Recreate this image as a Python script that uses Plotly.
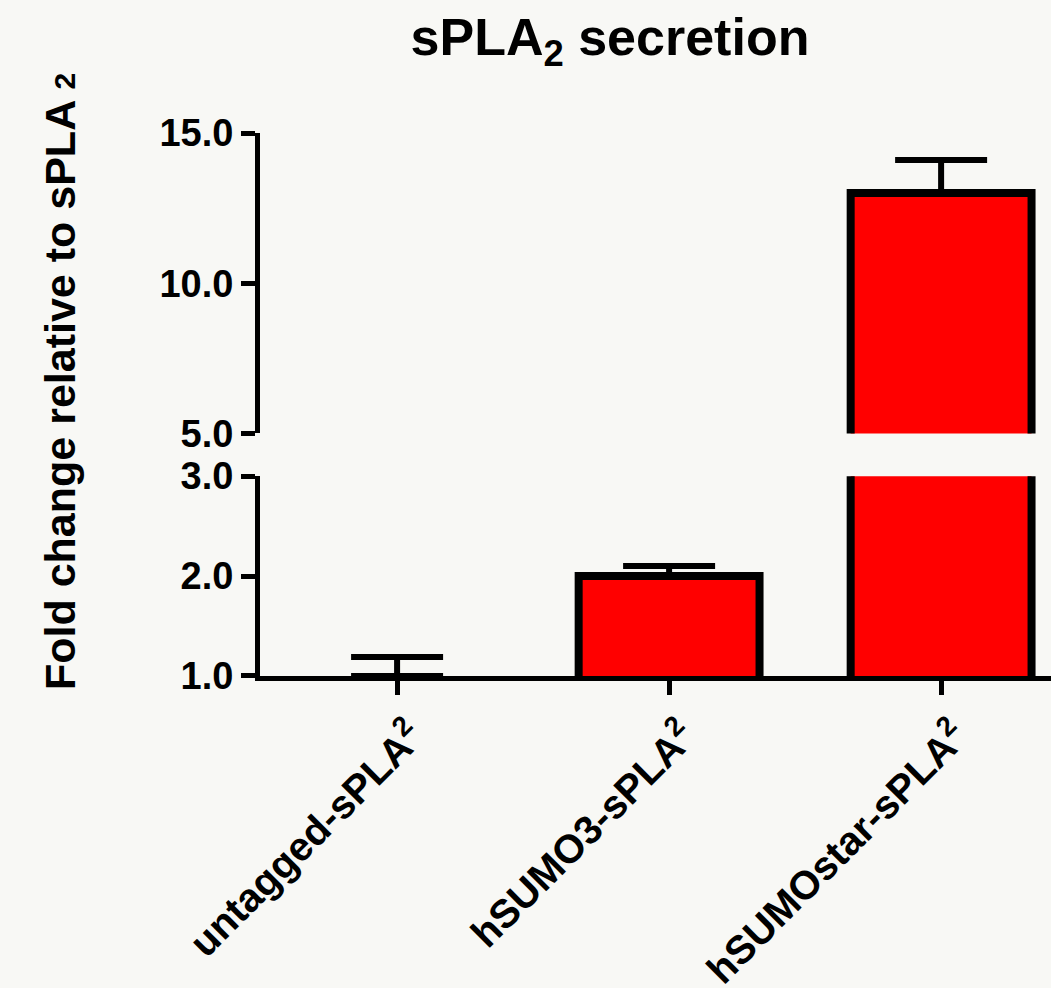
import plotly.graph_objects as go

# ---- data ----
categories = ["untagged-sPLA2", "hSUMO3-sPLA2", "hSUMOstar-sPLA2"]
tick_labels = ["untagged-sPLA<sup>2</sup>", "hSUMO3-sPLA<sup>2</sup>", "hSUMOstar-sPLA<sup>2</sup>"]
mean_fold = [1.0, 2.0, 13.0]
sem_fold = [0.19, 0.10, 1.10]
lower_ticks = [1.0, 2.0, 3.0]
upper_ticks = [5.0, 10.0, 15.0]
lower_range = [1.0, 3.0]
upper_range = [5.0, 15.0]

FONT = "Liberation Sans, Arial, Helvetica, sans-serif"
BG = "#f8f8f5"
RED = "#ff0000"

lower_err = [e if m < lower_range[1] else 0 for m, e in zip(mean_fold, sem_fold)]
upper_err = [e if m >= upper_range[0] else 0 for m, e in zip(mean_fold, sem_fold)]
lower_lw = [0 if m <= lower_range[0] else 8 for m in mean_fold]
upper_lw = [8 if m >= upper_range[0] else 0 for m in mean_fold]

fig = go.Figure()
fig.add_trace(go.Bar(
    x=categories, y=mean_fold, width=0.665, xaxis="x", yaxis="y",
    marker=dict(color=RED, line=dict(color="black", width=lower_lw)),
    error_y=dict(type="data", array=lower_err, arrayminus=[0] * 3, symmetric=False,
                 color="black", thickness=6, width=46),
    hoverinfo="skip",
))
fig.add_trace(go.Bar(
    x=categories, y=mean_fold, width=0.665, xaxis="x", yaxis="y2",
    marker=dict(color=RED, line=dict(color="black", width=upper_lw)),
    error_y=dict(type="data", array=upper_err, arrayminus=[0] * 3, symmetric=False,
                 color="black", thickness=6, width=46),
    hoverinfo="skip",
))

axis_common = dict(
    showline=True, linecolor="black", linewidth=5,
    ticks="outside", ticklen=14, tickwidth=5, tickcolor="black",
    showgrid=False, zeroline=False, automargin=False,
)
ytickfont = dict(family=FONT, size=38, color="black", weight="bold")

fig.update_layout(
    template="none",
    width=1051, height=988,
    margin=dict(l=260, r=0, t=133, b=312, autoexpand=False),
    paper_bgcolor=BG, plot_bgcolor=BG,
    showlegend=False, barmode="overlay",
    font=dict(family=FONT, color="black"),
    xaxis=dict(
        type="category", range=[-0.504, 2.404], anchor="y",
        tickvals=categories, ticktext=tick_labels, tickangle=-45,
        ticklabelstandoff=2, ticklabelshift=15,
        tickfont=dict(family=FONT, size=40, color="black", weight="bold"),
        **axis_common,
    ),
    yaxis=dict(domain=[0, 0.368], range=lower_range, tickvals=lower_ticks,
               tickformat=".1f", anchor="x", tickfont=ytickfont, **axis_common),
    yaxis2=dict(domain=[0.4467, 1], range=upper_range, tickvals=upper_ticks,
                tickformat=".1f", anchor="x", tickfont=ytickfont, **axis_common),
    title=dict(
        text="sPLA<sub>2</sub> secretion", xref="container", yref="container",
        x=610 / 1051, xanchor="center", y=1 - 37 / 988, yanchor="middle",
        font=dict(family=FONT, size=52, color="black", weight="bold"),
    ),
    annotations=[dict(
        text="Fold change relative to sPLA <span style='font-size:30px'>2</span>",
        xref="paper", yref="paper", x=-(260 - 60) / 791, y=1 - (382 - 133) / 543,
        xanchor="center", yanchor="middle", textangle=-90, showarrow=False,
        font=dict(family=FONT, size=43, color="black", weight="bold"),
    )],
)

fig.write_html(
    "out.html",
    config={"displayModeBar": False},
    post_script="document.body.style.margin='0';document.body.style.overflow='hidden';",
)
